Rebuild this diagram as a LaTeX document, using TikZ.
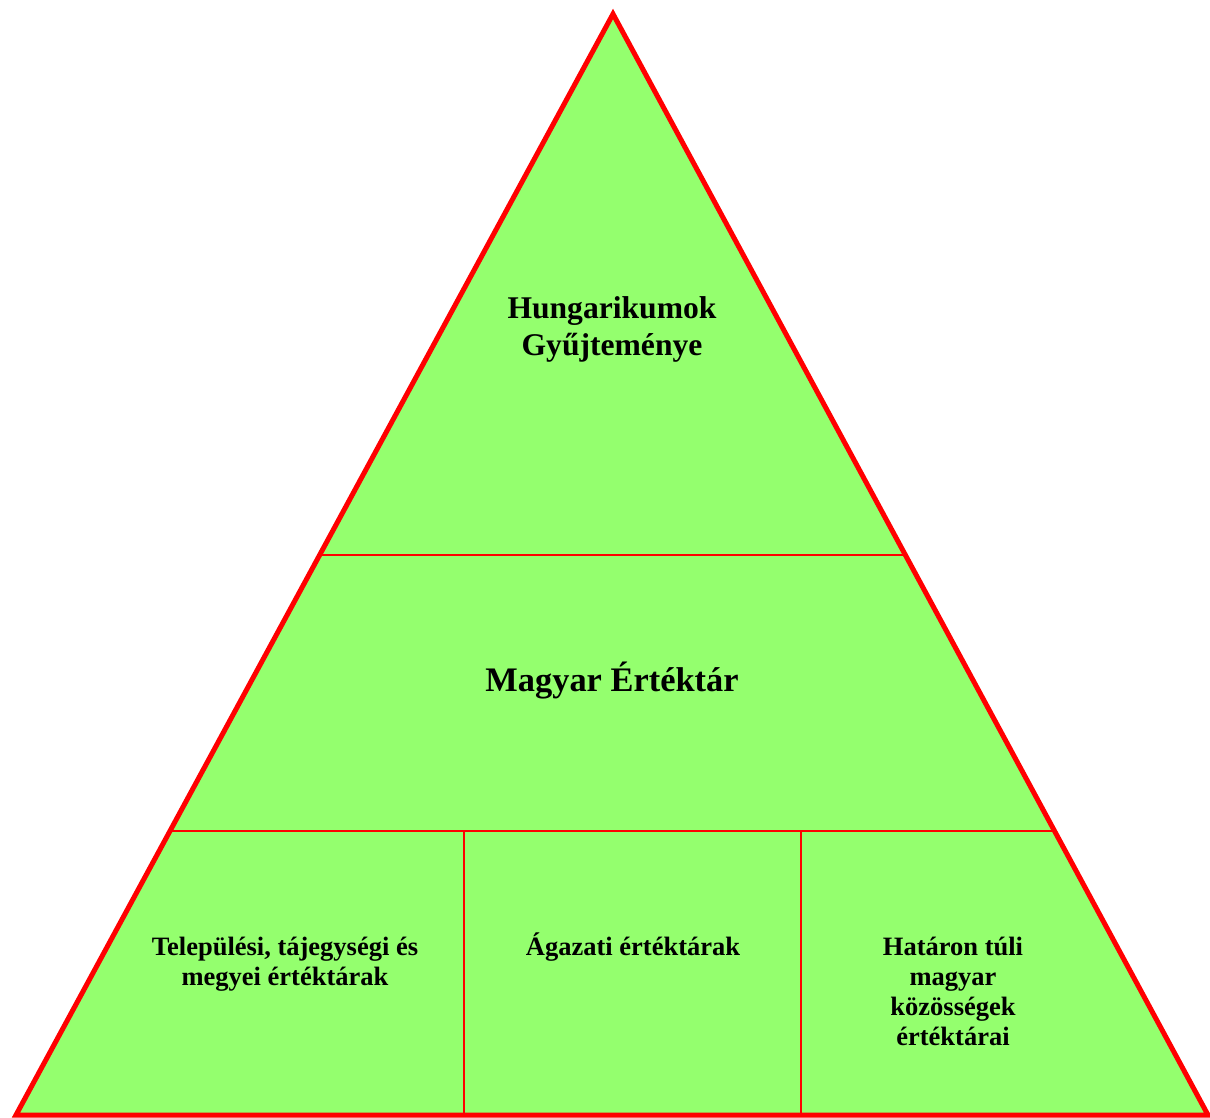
\documentclass[tikz,border=0pt]{standalone}
\usepackage{fontspec}
\setmainfont{Liberation Serif}
\usetikzlibrary{calc}
\definecolor{leafgreen}{RGB}{148,255,110}
\tikzset{
  toplabel/.style={font=\bfseries\fontsize{31.6}{37.5}\selectfont, align=center, anchor=base, inner sep=0pt},
  midlabel/.style={font=\bfseries\fontsize{34.4}{40}\selectfont, align=center, anchor=base, inner sep=0pt},
  baselabel/.style={font=\bfseries\fontsize{26.5}{30}\selectfont, align=center, anchor=base, inner sep=0pt}
}
\begin{document}
\begin{tikzpicture}[x=1pt,y=1pt]
\useasboundingbox (0,0) rectangle (1210,1117);
\coordinate (T) at (613,1103);
\coordinate (L) at (16,2);
\coordinate (R) at (1208,2);
\coordinate (P1) at ($(L)!0.509!(T)$);
\coordinate (Q1) at ($(R)!0.509!(T)$);
\coordinate (P2) at ($(L)!0.258!(T)$);
\coordinate (Q2) at ($(R)!0.258!(T)$);
\fill [leafgreen] (L) -- (T) -- (R) -- cycle;
\draw [red, line width=2pt] (P1) -- (Q1);
\draw [red, line width=2pt] (P2) -- (Q2);
\foreach \x/\n in {464/a,801/b} {
	\coordinate (U\n) at (\x,2);
	\coordinate (W\n) at (\x,286);
	\draw [red, line width=2pt] (U\n) -- (W\n);
}
\draw [red, line width=5pt] (L) -- (T) -- (R) -- cycle;
% the base anchor sits on the last line
\node[toplabel] (hung) at (612,761) {Hungarikumok\\Gyűjteménye};
\node[midlabel] (ertek) at (612,425) {Magyar Értéktár};
\node[baselabel] (telep) at (285,132) {Települési, tájegységi és\\megyei értéktárak};
\node[baselabel] (agaz) at (633,162) {Ágazati értéktárak};
\node[baselabel] (hatar) at (953,72) {Határon túli\\magyar\\közösségek\\értéktárai};
\end{tikzpicture}
\end{document}
